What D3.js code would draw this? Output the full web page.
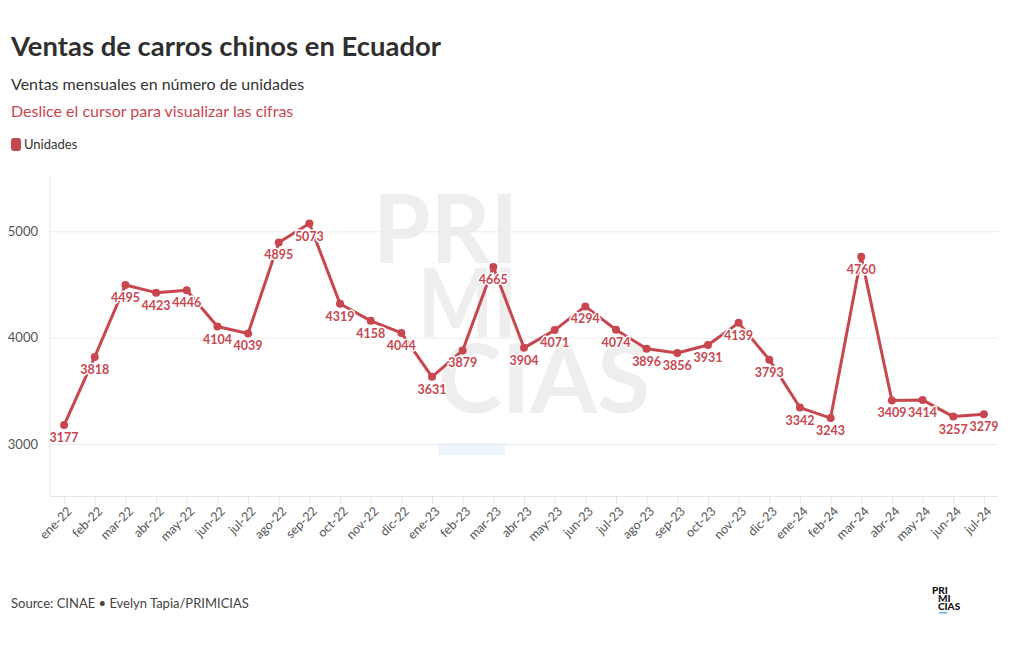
<!DOCTYPE html>
<html>
<head>
<meta charset="utf-8">
<script src="https://cdn.jsdelivr.net/npm/d3@7/dist/d3.min.js"></script>
<style>
  html, body { margin: 0; padding: 0; background: #fff; }
  svg { display: block; font-family: Lato, "Noto Sans", sans-serif; }
</style>
</head>
<body>
<svg id="chart" width="1020" height="650"></svg>
<script>
const months = ["ene-22","feb-22","mar-22","abr-22","may-22","jun-22","jul-22","ago-22","sep-22","oct-22","nov-22","dic-22",
                "ene-23","feb-23","mar-23","abr-23","may-23","jun-23","jul-23","ago-23","sep-23","oct-23","nov-23","dic-23",
                "ene-24","feb-24","mar-24","abr-24","may-24","jun-24","jul-24"];
const units = [3177,3818,4495,4423,4446,4104,4039,4895,5073,4319,4158,4044,
               3631,3879,4665,3904,4071,4294,4074,3896,3856,3931,4139,3793,
               3342,3243,4760,3409,3414,3257,3279];
const yTicks = [3000,4000,5000];
const seriesName = "Unidades";

const RED = "#c8474f";
const svg = d3.select("#chart");
svg.append("rect").attr("width",1020).attr("height",650).attr("fill","#fff");

// Header
svg.append("text").attr("x",11).attr("y",56).attr("fill","#2f2f2f")
  .attr("font-size",26).attr("font-weight",700)
  .attr("textLength",430).attr("lengthAdjust","spacingAndGlyphs")
  .text("Ventas de carros chinos en Ecuador");
svg.append("text").attr("x",11).attr("y",90).attr("fill","#333")
  .attr("font-size",16).text("Ventas mensuales en número de unidades");
svg.append("text").attr("x",11).attr("y",117).attr("fill",RED)
  .attr("font-size",16).text("Deslice el cursor para visualizar las cifras");

// Legend
svg.append("rect").attr("x",11).attr("y",138).attr("width",10).attr("height",13).attr("rx",3).attr("fill",RED);
svg.append("text").attr("x",24).attr("y",149).attr("fill","#333").attr("font-size",13).text(seriesName);

// Scales
const x = d3.scalePoint().domain(months).range([50, 998]).padding(0.46);
const y = d3.scaleLinear().domain([2510, 5530]).range([496, 175]);

// Watermark
const wm = svg.append("g").attr("fill","#eeeeee").attr("font-weight",700).attr("font-size",95);
wm.append("text").attr("x",373).attr("y",263).attr("textLength",145).attr("lengthAdjust","spacingAndGlyphs").text("PRI");
wm.append("text").attr("x",418).attr("y",337).attr("textLength",99).attr("lengthAdjust","spacingAndGlyphs").text("MI");
wm.append("text").attr("x",438).attr("y",413).attr("textLength",212).attr("lengthAdjust","spacingAndGlyphs").text("CIAS");
svg.append("rect").attr("x",438).attr("y",443).attr("width",67).attr("height",12).attr("fill","#eef5fc");

// Y grid + labels
const yAxis = svg.append("g").attr("transform","translate(50,0)")
  .call(d3.axisLeft(y).tickValues(yTicks).tickSize(-948).tickPadding(12).tickFormat(d3.format("d")));
yAxis.select(".domain").remove();
yAxis.selectAll(".tick line").attr("stroke","#ebebeb");
yAxis.selectAll(".tick text").attr("fill","#555").attr("font-size",13).attr("font-family","Lato, sans-serif");

// axis lines
svg.append("line").attr("x1",50).attr("x2",50).attr("y1",175).attr("y2",496).attr("stroke","#e6e6e6");

// X axis
const xAxis = svg.append("g").attr("transform","translate(0,496)")
  .call(d3.axisBottom(x).tickSize(8));
xAxis.select(".domain").attr("stroke","#e6e6e6").attr("d","M50,0.5H998");
xAxis.selectAll(".tick line").attr("stroke","#e6e6e6");
xAxis.selectAll(".tick text")
  .attr("fill","#555").attr("font-size",12.5).attr("font-family","Lato, sans-serif")
  .attr("text-anchor","end").attr("x",0).attr("y",0).attr("dy","0.35em")
  .attr("transform","translate(5,13) rotate(-45)");

// Line
const data = months.map((m,i)=>({m, v: units[i]}));
svg.append("path").datum(data)
  .attr("fill","none").attr("stroke",RED).attr("stroke-width",3).attr("stroke-linejoin","round")
  .attr("d", d3.line().x(d=>x(d.m)).y(d=>y(d.v)));
svg.append("g").selectAll("circle").data(data).join("circle")
  .attr("cx",d=>x(d.m)).attr("cy",d=>y(d.v)).attr("r",4).attr("fill",RED);

// Labels
svg.append("g").selectAll("text").data(data).join("text")
  .attr("x",d=>x(d.m)).attr("y",d=>y(d.v)+17)
  .attr("text-anchor","middle").attr("font-size",12.5).attr("font-weight",700)
  .attr("fill",RED).attr("stroke","#fff").attr("stroke-width",3).attr("paint-order","stroke")
  .attr("stroke-linejoin","round")
  .text(d=>d.v);

// Footer
svg.append("text").attr("x",11).attr("y",608).attr("fill","#444").attr("font-size",13)
  .text("Source: CINAE • Evelyn Tapia/PRIMICIAS");
const logo = svg.append("g").attr("fill","#111").attr("font-weight",900).attr("font-size",10);
logo.append("text").attr("x",932).attr("y",594).text("PRI");
logo.append("text").attr("x",938).attr("y",602).text("MI");
logo.append("text").attr("x",938).attr("y",610).text("CIAS");
svg.append("rect").attr("x",939).attr("y",612).attr("width",8).attr("height",1.5).attr("fill","#5ab4e5");
</script>
</body>
</html>
